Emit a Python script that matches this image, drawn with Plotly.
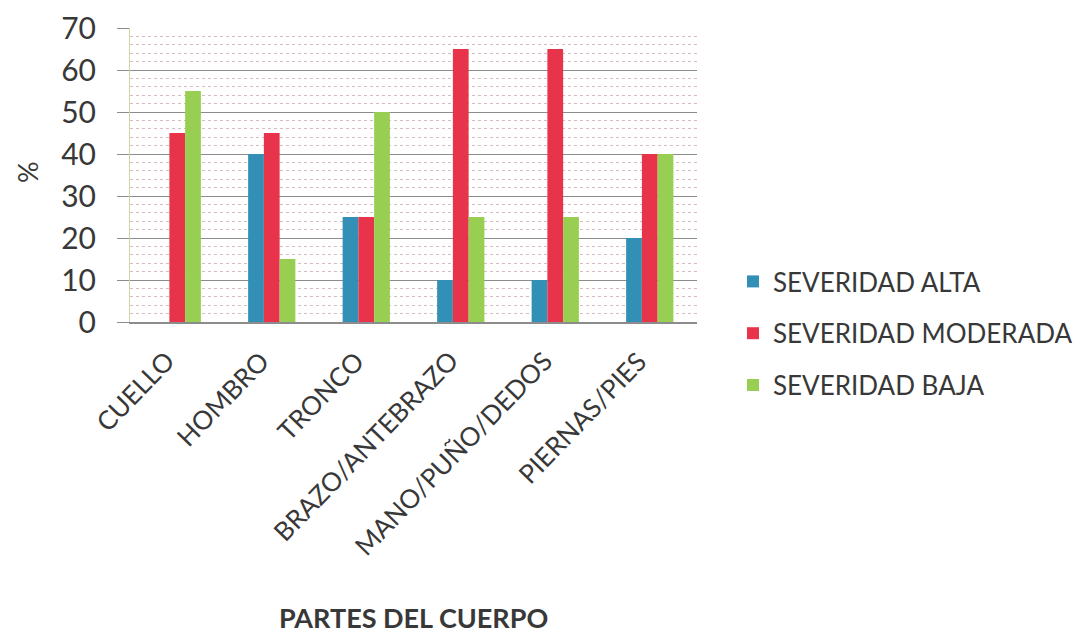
import plotly.graph_objects as go

categories = ["CUELLO", "HOMBRO", "TRONCO", "BRAZO/ANTEBRAZO", "MANO/PUÑO/DEDOS", "PIERNAS/PIES"]
alta = [0, 40, 25, 10, 10, 20]
moderada = [45, 45, 25, 65, 65, 40]
baja = [55, 15, 50, 25, 25, 40]
series_names = ["SEVERIDAD ALTA", "SEVERIDAD MODERADA", "SEVERIDAD BAJA"]
colors = ["#3290b6", "#e8344a", "#98cf52"]

FONT = "Lato, 'Open Sans', sans-serif"
TXT = "#383838"

fig = go.Figure()
for i, (name, vals) in enumerate(zip(series_names, [alta, moderada, baja])):
    fig.add_trace(go.Bar(x=categories, y=vals, name=name, marker_color=colors[i],
                         marker_line_width=0, legendgroup=name))

# page body has an 8px margin, so the figure is drawn 8px smaller and offset
OFF = 8
W, H = 1084 - OFF, 635 - OFF
L, R, T, B = 130 - OFF, 697 - OFF, 28 - OFF, 322 - OFF
PH = B - T
PW = R - L
fig.update_layout(
    width=W, height=H,
    margin=dict(l=L, r=W - R, t=T, b=H - B, autoexpand=False),
    paper_bgcolor="white", plot_bgcolor="white",
    barmode="group", bargap=0.5, bargroupgap=0,
    font=dict(family=FONT, color=TXT),
    showlegend=True,
    legend=dict(x=(725 - L) / PW, y=(B - 250) / PH, xanchor="left", yanchor="top",
                font=dict(size=26, family=FONT, color=TXT), tracegroupgap=15,
                itemwidth=30, bgcolor="rgba(0,0,0,0)"),
)
fig.update_yaxes(
    range=[0, 70], dtick=10, tickfont=dict(size=30, family=FONT, color=TXT),
    showgrid=True, gridcolor="#8c8c8c", gridwidth=1,
    minor=dict(dtick=2, showgrid=True, gridcolor="#d6bcbc", griddash="dot", gridwidth=1),
    showline=True, linecolor="#c8d8a8", linewidth=1,
    ticks="outside", ticklen=12, tickcolor="#8c8c8c",
    ticklabelstandoff=15,
    zeroline=False, automargin=False,
)
fig.update_xaxes(
    range=[-0.5, len(categories) - 0.5], autorange=False,
    showticklabels=False, automargin=False,
    showline=True, linecolor="#8c8c8c", linewidth=2,
)
# rotated category labels
for c in categories:
    fig.add_annotation(text=c, xref="x", yref="paper", x=c, y=-20 / PH, xshift=6,
                       xanchor="right", yanchor="top", textangle=-46, showarrow=False,
                       font=dict(size=26, family=FONT, color=TXT))
fig.add_annotation(text="%", xref="paper", yref="paper", x=(19 - L) / PW, y=(B - 164) / PH,
                   textangle=-90, showarrow=False, xanchor="center", yanchor="middle",
                   font=dict(size=27, family=FONT, color=TXT))
fig.add_annotation(text="<b>PARTES DEL CUERPO</b>", xref="paper", yref="paper",
                   x=0.5, y=(B - 609) / PH, showarrow=False,
                   font=dict(size=27, family=FONT, color=TXT), xanchor="center", yanchor="middle")

fig.write_html("out.html")
